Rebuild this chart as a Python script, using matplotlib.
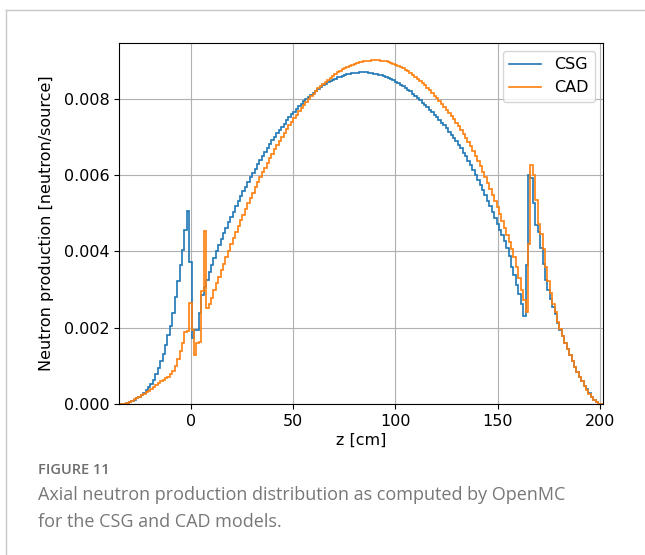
import numpy as np
import matplotlib
matplotlib.use("Agg")
import matplotlib.pyplot as plt
from matplotlib.lines import Line2D

# ---- data ----
z_min, z_max, n_bins = -35.2, 201.5, 200

csg = [
    0.0, 0.0, 0.00001, 0.00003, 0.00005, 0.00008, 0.00011, 0.00015, 0.00019, 0.00024,
    0.00030, 0.00036, 0.00044, 0.00053, 0.00064, 0.00078, 0.00094, 0.00112, 0.00132, 0.00155,
    0.00180, 0.00204, 0.00238, 0.00280, 0.00322, 0.00363, 0.00403, 0.00455, 0.00505, 0.00372,
    0.00172, 0.00193, 0.00195, 0.00238, 0.00285, 0.00307, 0.00326, 0.00346, 0.00364, 0.00382,
    0.00402, 0.00417, 0.00432, 0.00447, 0.00462, 0.00476, 0.00490, 0.00504, 0.00518, 0.00531,
    0.00544, 0.00557, 0.00569, 0.00582, 0.00594, 0.00606, 0.00617, 0.00628, 0.00639, 0.00650,
    0.00661, 0.00671, 0.00681, 0.00691, 0.00700, 0.00709, 0.00718, 0.00727, 0.00735, 0.00743,
    0.00751, 0.00759, 0.00766, 0.00774, 0.00780, 0.00787, 0.00793, 0.00800, 0.00805, 0.00811,
    0.00816, 0.00821, 0.00826, 0.00831, 0.00835, 0.00839, 0.00843, 0.00847, 0.00850, 0.00853,
    0.00856, 0.00858, 0.00860, 0.00862, 0.00864, 0.00866, 0.00867, 0.00868, 0.00868, 0.00869,
    0.00869, 0.00869, 0.00869, 0.00868, 0.00867, 0.00866, 0.00865, 0.00863, 0.00861, 0.00859,
    0.00857, 0.00854, 0.00851, 0.00848, 0.00845, 0.00841, 0.00837, 0.00833, 0.00828, 0.00824,
    0.00819, 0.00813, 0.00808, 0.00802, 0.00796, 0.00790, 0.00784, 0.00778, 0.00771, 0.00764,
    0.00758, 0.00751, 0.00744, 0.00737, 0.00730, 0.00722, 0.00714, 0.00706, 0.00697, 0.00688,
    0.00679, 0.00670, 0.00659, 0.00649, 0.00638, 0.00626, 0.00614, 0.00601, 0.00588, 0.00574,
    0.00561, 0.00547, 0.00532, 0.00518, 0.00503, 0.00488, 0.00473, 0.00457, 0.00442, 0.00426,
    0.00408, 0.00387, 0.00360, 0.00338, 0.00312, 0.00288, 0.00262, 0.00230, 0.00363, 0.00599,
    0.00592, 0.00527, 0.00468, 0.00450, 0.00410, 0.00368, 0.00325, 0.00300, 0.00276, 0.00254,
    0.00235, 0.00212, 0.00195, 0.00177, 0.00160, 0.00145, 0.00128, 0.00113, 0.00098, 0.00085,
    0.00072, 0.00060, 0.00048, 0.00038, 0.00028, 0.00019, 0.00011, 0.00005, 0.00001, 0.0,
]

cad = [
    0.0, 0.0, 0.00001, 0.00003, 0.00006, 0.00009, 0.00012, 0.00015, 0.00019, 0.00023,
    0.00027, 0.00031, 0.00035, 0.00039, 0.00044, 0.00049, 0.00055, 0.00060, 0.00064, 0.00068,
    0.00071, 0.00078, 0.00086, 0.00100, 0.00117, 0.00138, 0.00160, 0.00189, 0.00190, 0.00265,
    0.00193, 0.00128, 0.00159, 0.00162, 0.00295, 0.00453, 0.00251, 0.00261, 0.00279, 0.00298,
    0.00316, 0.00334, 0.00351, 0.00368, 0.00386, 0.00402, 0.00419, 0.00435, 0.00451, 0.00466,
    0.00481, 0.00496, 0.00511, 0.00526, 0.00540, 0.00554, 0.00568, 0.00581, 0.00594, 0.00607,
    0.00619, 0.00632, 0.00644, 0.00656, 0.00667, 0.00678, 0.00689, 0.00700, 0.00710, 0.00720,
    0.00730, 0.00740, 0.00749, 0.00758, 0.00767, 0.00775, 0.00783, 0.00791, 0.00799, 0.00806,
    0.00813, 0.00820, 0.00827, 0.00833, 0.00839, 0.00845, 0.00850, 0.00855, 0.00860, 0.00865,
    0.00869, 0.00873, 0.00877, 0.00880, 0.00884, 0.00887, 0.00889, 0.00892, 0.00894, 0.00896,
    0.00897, 0.00899, 0.00900, 0.00900, 0.00901, 0.00901, 0.00901, 0.00901, 0.00900, 0.00899,
    0.00898, 0.00896, 0.00894, 0.00892, 0.00889, 0.00886, 0.00883, 0.00880, 0.00876, 0.00872,
    0.00868, 0.00863, 0.00858, 0.00853, 0.00847, 0.00841, 0.00835, 0.00828, 0.00822, 0.00815,
    0.00808, 0.00801, 0.00794, 0.00787, 0.00779, 0.00771, 0.00763, 0.00754, 0.00746, 0.00737,
    0.00728, 0.00718, 0.00708, 0.00698, 0.00687, 0.00676, 0.00664, 0.00651, 0.00638, 0.00624,
    0.00609, 0.00594, 0.00579, 0.00563, 0.00547, 0.00531, 0.00515, 0.00498, 0.00480, 0.00462,
    0.00444, 0.00424, 0.00405, 0.00385, 0.00360, 0.00330, 0.00300, 0.00272, 0.00240, 0.00418,
    0.00627, 0.00600, 0.00535, 0.00473, 0.00445, 0.00405, 0.00360, 0.00322, 0.00290, 0.00262,
    0.00240, 0.00214, 0.00196, 0.00178, 0.00160, 0.00145, 0.00128, 0.00113, 0.00098, 0.00085,
    0.00072, 0.00060, 0.00048, 0.00037, 0.00027, 0.00018, 0.00010, 0.00004, 0.00001, 0.0,
]

labels = ["CSG", "CAD"]
x_ticks = [0, 50, 100, 150, 200]
x_label = "z [cm]"
y_label = "Neutron production [neutron/source]"
caption_head = "FIGURE 11"
caption_lines = ["Axial neutron production distribution as computed by OpenMC",
                 "for the CSG and CAD models."]

# ---- figure ----
fig = plt.figure(figsize=(6.45, 5.55), dpi=100)
W, H = 645, 555

# card border (top and left)
fig.add_artist(Line2D([6 / W, 1.0], [1 - 10 / H, 1 - 10 / H], color="#c8c8c8", lw=1.0))
fig.add_artist(Line2D([6 / W, 6 / W], [0.0, 1 - 10 / H], color="#c8c8c8", lw=1.0))

ax = fig.add_axes([119 / W, 1 - 404 / H, (603 - 119) / W, (404 - 43) / H])
edges = np.linspace(z_min, z_max, n_bins + 1)
ax.stairs(csg, edges, color="#1f77b4", lw=1.2, label=labels[0])
ax.stairs(cad, edges, color="#ff7f0e", lw=1.2, label=labels[1])

ax.set_xlim(z_min, z_max)
ymax = max(max(csg), max(cad))
ax.set_ylim(0, ymax * 1.05)
ax.set_xticks(x_ticks)
ax.set_yticks([0, 0.002, 0.004, 0.006, 0.008])
ax.set_yticklabels(["0.000", "0.002", "0.004", "0.006", "0.008"])
ax.grid(True, color="#b0b0b0", lw=0.8)
ax.set_axisbelow(True)
ax.tick_params(labelsize=11.5)
ax.set_xlabel(x_label, fontsize=11.5, labelpad=3)
ax.set_ylabel(y_label, fontsize=11.5, labelpad=7)
leg = ax.legend(loc="upper right", fontsize=11.5)

fig.text(38 / W, 1 - 470 / H, caption_head, family="Open Sans", fontsize=10.5,
         color="#6e6e6e", fontweight="semibold", va="center", ha="left")
fig.text(38 / W, 1 - 495 / H, caption_lines[0], family="Open Sans", fontsize=13,
         color="#777777", va="center", ha="left")
fig.text(38 / W, 1 - 522 / H, caption_lines[1], family="Open Sans", fontsize=13,
         color="#777777", va="center", ha="left")

fig.savefig("out.png", dpi=100)
